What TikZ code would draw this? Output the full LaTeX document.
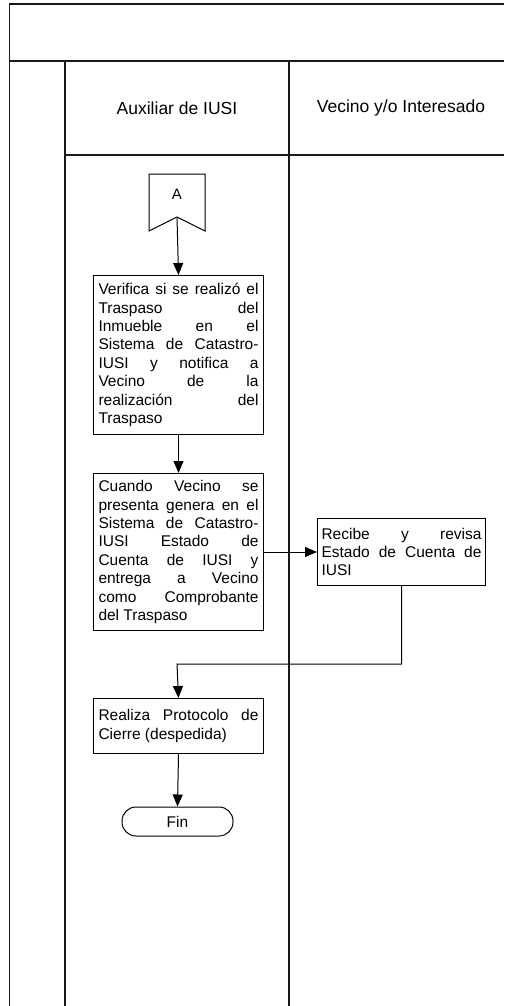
\documentclass[tikz,border=0pt]{standalone}
\usepackage{fontspec}
\setmainfont{Liberation Sans}
\usetikzlibrary{arrows.meta}
\hyphenpenalty=10000
\exhyphenpenalty=10000
\hbadness=10000
\tikzset{
  lane/.style={line width=1.5pt, draw=black!90},
  proc/.style={draw, line width=1pt, anchor=north west, text width=160pt,
    inner xsep=5pt, inner ysep=0pt, align=justify,
    font=\fontsize{15.5}{18.4}\selectfont},
  hdr/.style={font=\fontsize{17.5}{20}\selectfont, inner sep=0pt},
  flow/.style={line width=1pt, -{Triangle[length=12pt,width=10pt]}},
  term/.style={draw, line width=1pt, rounded corners=14pt, minimum width=111pt,
    minimum height=29pt, inner sep=0pt, font=\fontsize{15.5}{18}\selectfont},
}
\begin{document}
\begin{tikzpicture}[x=1pt,y=-1pt]
\useasboundingbox (0,0) rectangle (504,1006);
% swimlane frame
\coordinate (TL) at (9.5,4);
\draw[lane] (9.5,1006) -- (TL) -- (504,4);
\draw[lane] (9.5,61) -- (504,61);
\draw[lane] (65,61) -- (65,1006);
\draw[lane] (289,61) -- (289,1006);
\draw[lane] (65,155) -- (504,155);
\node[hdr] (h1) at (177,108) {Auxiliar de IUSI};
\node[hdr] (h2) at (401,108) {Vecino y/o Interesado};
% off-page connector A
\draw[line width=1pt] (149,231) -- (149,174) -- (205,174) -- (205,231) -- (177,217) -- cycle;
\node[font=\fontsize{15}{18}\selectfont, inner sep=0pt] (A) at (177,194.5) {A};
\coordinate (Anotch) at (177,217);
% process boxes
\node[proc, minimum height=159pt] (b1) at (93,275)
 {Verifica si se realizó el\linebreak Traspaso del\linebreak Inmueble en el\linebreak Sistema de Catastro-\linebreak IUSI y notifica a\linebreak Vecino de la\linebreak realización del\linebreak Traspaso};
\node[proc, minimum height=157pt] (b2) at (93,473)
 {Cuando Vecino se\linebreak presenta genera en el\linebreak Sistema de Catastro-\linebreak IUSI Estado de\linebreak Cuenta de IUSI y\linebreak entrega a Vecino\linebreak como Comprobante\linebreak del Traspaso};
\node[proc, minimum height=67pt, inner xsep=4pt] (b3) at (317,518)
 {Recibe y revisa\linebreak Estado de Cuenta de\linebreak IUSI};
\node[proc, minimum height=55pt] (b4) at (93,698)
 {Realiza Protocolo de\linebreak Cierre (despedida)};
\node[term] (fin) at (177.5,821.5) {Fin};
% connectors
\draw[flow] (Anotch) -- (b1.north);
\draw[flow] (b1.south) -- (b2.north);
\draw[flow] (b2.east) -- (b3.west);
\draw[flow] (b3.south) |- (177,664) -- (b4.north);
\draw[flow] (b4.south) -- (fin.north);
\end{tikzpicture}
\end{document}
